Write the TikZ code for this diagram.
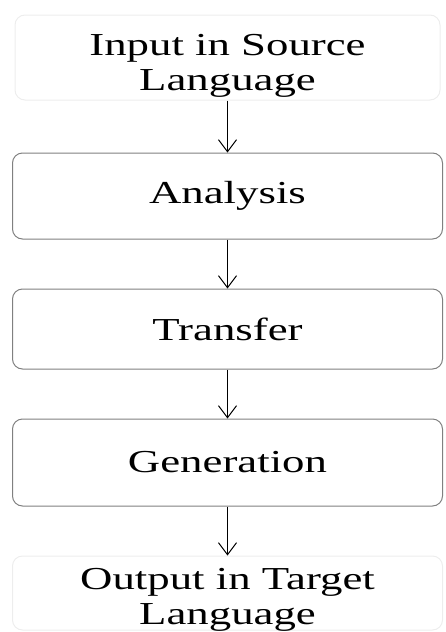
\documentclass[tikz,border=0pt]{standalone}
\usepackage{fontspec}
\setmainfont{Liberation Serif}[FakeStretch=1.4]
\usetikzlibrary{positioning, arrows.meta}

% two-line label, set lower in its box by #1
\newcommand{\lowerlines}[2]{\raisebox{0pt}[\dimexpr\height+#1\relax][\dimexpr\depth-#1\relax]{\begin{tabular}{@{}c@{}}#2\end{tabular}}}

\begin{document}
\begin{tikzpicture}[
		node distance=24.5pt,
		stage/.style={
			draw=black!50,
			rounded corners=5pt,
			align=center,
			minimum width=215pt,
			minimum height=43pt,
			line width=0.5pt,
			font=\fontsize{16}{17.5}\selectfont
		},
		terminal/.style={
			stage,
			draw=black!7,
			inner sep=1pt
		},
		arrow/.style={-{Straight Barb[length=6pt, width=9pt]}, line width=0.5pt}
		]
		
		\useasboundingbox (0,0) rectangle (222.5pt,-316pt);
		
		\node[terminal, minimum width=212.5pt, minimum height=42.5pt] (input) at (113.75pt,-28.75pt) {\lowerlines{4pt}{Input in Source\\ Language}};
		\node[stage, below=26pt of input] (analysis) {Analysis};
		\node[stage, below=of analysis, minimum height=40pt] (transfer) {Transfer};
		\node[stage, below=of transfer, minimum height=43.5pt] (generation) {Generation};
		\node[terminal, below=of generation, minimum height=36pt] (output) {\lowerlines{3.5pt}{Output in Target\\ Language}};
		
		\draw[arrow] (input) -- (analysis);
		\draw[arrow] (analysis) -- (transfer);
		\draw[arrow] (transfer) -- (generation);
		\draw[arrow] (generation) -- (output);
		
	\end{tikzpicture}
\end{document}
